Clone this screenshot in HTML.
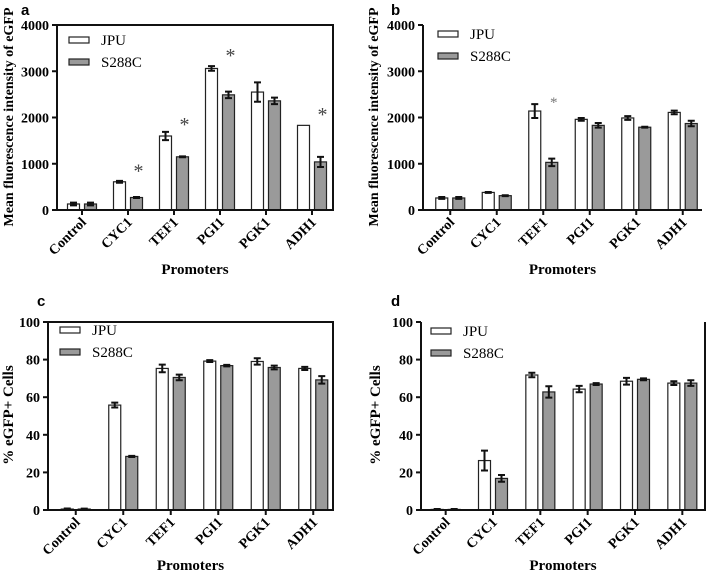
<!DOCTYPE html>
<html><head><meta charset="utf-8">
<style>
body{margin:0;background:#fff;}
svg{display:block;font-family:"Liberation Serif",serif;}
svg text{font-family:"Liberation Serif",serif;}
svg text.lt{font-family:"Liberation Sans",sans-serif;font-weight:bold;font-size:15px;}
</style></head>
<body>
<svg id="fig" width="709" height="575" viewBox="0 0 709 575"></svg>
<script>
const categories = ["Control","CYC1","TEF1","PGI1","PGK1","ADH1"];
const aJPU = [130,610,1600,3060,2550,1830];
const aJPUerr = [30,20,90,50,210,0];
const aS288C = [130,270,1150,2490,2360,1040];
const aS288Cerr = [30,10,10,70,70,110];
const aStars = [null,900,1900,3400,null,2120];
const bJPU = [260,380,2140,1960,1990,2110];
const bJPUerr = [20,10,150,30,40,40];
const bS288C = [260,310,1030,1830,1790,1870];
const bS288Cerr = [20,10,80,50,10,60];
const bStars = [null,null,2420,null,null,null];
const cJPU = [0.5,55.8,75.3,79.2,79,75.3];
const cJPUerr = [0.3,1.3,2,0.5,1.7,0.8];
const cS288C = [0.5,28.5,70.5,76.8,75.8,69.2];
const cS288Cerr = [0.2,0.3,1.5,0.4,1,2];
const dJPU = [0.3,26.3,71.8,64.3,68.5,67.5];
const dJPUerr = [0.2,5.3,1.2,1.7,1.8,1];
const dS288C = [0.3,16.8,62.8,67,69.5,67.5];
const dS288Cerr = [0.2,1.8,3,0.5,0.5,1.5];
const mfiTicks = [0,1000,2000,3000,4000];
const pctTicks = [0,20,40,60,80,100];

const svg = document.getElementById('fig');
const NS = 'http://www.w3.org/2000/svg';
function mk(tag, attrs, parent){
  const e = document.createElementNS(NS, tag);
  for (const k in attrs) e.setAttribute(k, attrs[k]);
  (parent||svg).appendChild(e);
  return e;
}

function panel(p){
  const g = mk('g', {});
  
  
  const yMax = p.ticks[p.ticks.length-1];
  const y = v => p.yb - (v / yMax) * (p.yb - p.yt);
  const cell = (p.x1 - p.x0) / categories.length;
  const cx = i => p.x0 + cell * (i + 0.5) + p.shift;
  const bw = 12, gap = 5;
  const series = [[p.jpu,p.jpuErr,'#fff',-1],[p.s,p.sErr,'#9a9a9a',1]];
  series.forEach((s, si) => {
    categories.forEach((c, i) => {
      const left = s[3] < 0 ? cx(i) - gap/2 - bw : cx(i) + gap/2;
      const top = y(s[0][i]);
      const r = mk('rect', {x:left, y:top, width:bw, height:Math.max(p.yb-top,0.5), fill:s[2], stroke:'#222', 'stroke-width':1.2}, g);
      
      
      const e = s[1][i];
      if (e > 0) {
        const mx = left + bw/2, y1 = y(s[0][i]+e), y2 = y(s[0][i]-e);
        const eb = mk('path', {d:`M${mx},${y1}V${y2}M${mx-3.5},${y1}H${mx+3.5}M${mx-3.5},${y2}H${mx+3.5}`, stroke:'#111', 'stroke-width':2, fill:'none'}, g);
        
        
      }
    });
  });
  if (p.stars) p.stars.forEach((v, i) => {
    if (v == null) return;
    const t = mk('text', {x:cx(i)+gap/2+bw/2+2, y:y(v)+9, 'text-anchor':'middle', 'font-size':p.starSize, fill:p.starColor}, g);
    t.textContent = '*';
    
    
  });
  let d = `M${p.x0},${p.yt}V${p.yb}H${p.x1}`;
  if (p.right) d += `V${p.yt}`;
  if (p.top) d += `H${p.x0}`;
  const ax = mk('path', {d, stroke:'#111', 'stroke-width':2, fill:'none'}, g);
  
  
  p.ticks.forEach(t => {
    mk('line', {x1:p.x0-5, x2:p.x0, y1:y(t), y2:y(t), stroke:'#111', 'stroke-width':2}, g);
    const tl = mk('text', {x:p.x0-8, y:y(t)+5, 'text-anchor':'end', 'font-size':14, 'font-weight':'bold'}, g);
    tl.textContent = t;
    
    
  });
  categories.forEach((c, i) => {
    mk('line', {x1:cx(i), x2:cx(i), y1:p.yb, y2:p.yb+5, stroke:'#111', 'stroke-width':2}, g);
    const tx = cx(i) + 5, ty = p.yb + 13;
    const tl = mk('text', {x:tx, y:ty, 'text-anchor':'end', 'font-size':14, 'font-weight':'bold', transform:`rotate(-45 ${tx} ${ty})`}, g);
    tl.textContent = c;
    
    
  });
  const xt = mk('text', {x:(p.x0+p.x1)/2, y:p.xty, 'text-anchor':'middle', 'font-size':15, 'font-weight':'bold'}, g);
  xt.textContent = 'Promoters';
  
  
  const yc = p.ytc;
  const yt = mk('text', {x:p.ytx, y:yc, 'text-anchor':'middle', 'font-size':p.ytSize, 'font-weight':'bold', transform:`rotate(-90 ${p.ytx} ${yc})`}, g);
  yt.textContent = p.ytitle;
  
  
  [['JPU','#fff',p.ly],['S288C','#9a9a9a',p.ly+22]].forEach(l => {
    const le = mk('g', {}, g);
    
    
    mk('rect', {x:p.lx, y:l[2], width:20, height:6, fill:l[1], stroke:'#222', 'stroke-width':1.2}, le);
    const lt = mk('text', {x:p.lx+32, y:l[2]+8, 'font-size':15}, le);
    lt.textContent = l[0];
  });
  const lt = mk('text', {x:p.lbx, y:p.lby, class:'lt'}, g);
  lt.textContent = p.id;
  
  
}

const mfiTitle = 'Mean fluorescence intensity of eGFP';
const pctTitle = '% eGFP+ Cells';
panel({id:'a', x0:57, x1:333, yt:25, yb:210, shift:2, top:true, right:true, ticks:mfiTicks,
  jpu:aJPU, jpuErr:aJPUerr, s:aS288C, sErr:aS288Cerr, stars:aStars, starSize:20, starColor:'#444',
  ytitle:mfiTitle, ytx:13, ytc:117, ytSize:14, xty:274, lx:69, ly:37, lbx:21, lby:15});
panel({id:'b', x0:423, x1:702, yt:25, yb:210, shift:4, top:false, right:false, ticks:mfiTicks,
  jpu:bJPU, jpuErr:bJPUerr, s:bS288C, sErr:bS288Cerr, stars:bStars, starSize:15, starColor:'#777',
  ytitle:mfiTitle, ytx:378, ytc:117, ytSize:14, xty:274, lx:438, ly:31, lbx:391, lby:15});
panel({id:'c', x0:48, x1:333, yt:322, yb:510, shift:4, top:true, right:true, ticks:pctTicks,
  jpu:cJPU, jpuErr:cJPUerr, s:cS288C, sErr:cS288Cerr, stars:null,
  ytitle:pctTitle, ytx:13, ytc:415, ytSize:15, xty:570, lx:60, ly:327, lbx:37, lby:306});
panel({id:'d', x0:421, x1:705, yt:322, yb:510, shift:1, top:false, right:true, ticks:pctTicks,
  jpu:dJPU, jpuErr:dJPUerr, s:dS288C, sErr:dS288Cerr, stars:null,
  ytitle:pctTitle, ytx:380, ytc:415, ytSize:15, xty:570, lx:431, ly:328, lbx:391, lby:306});
</script>
</body></html>
